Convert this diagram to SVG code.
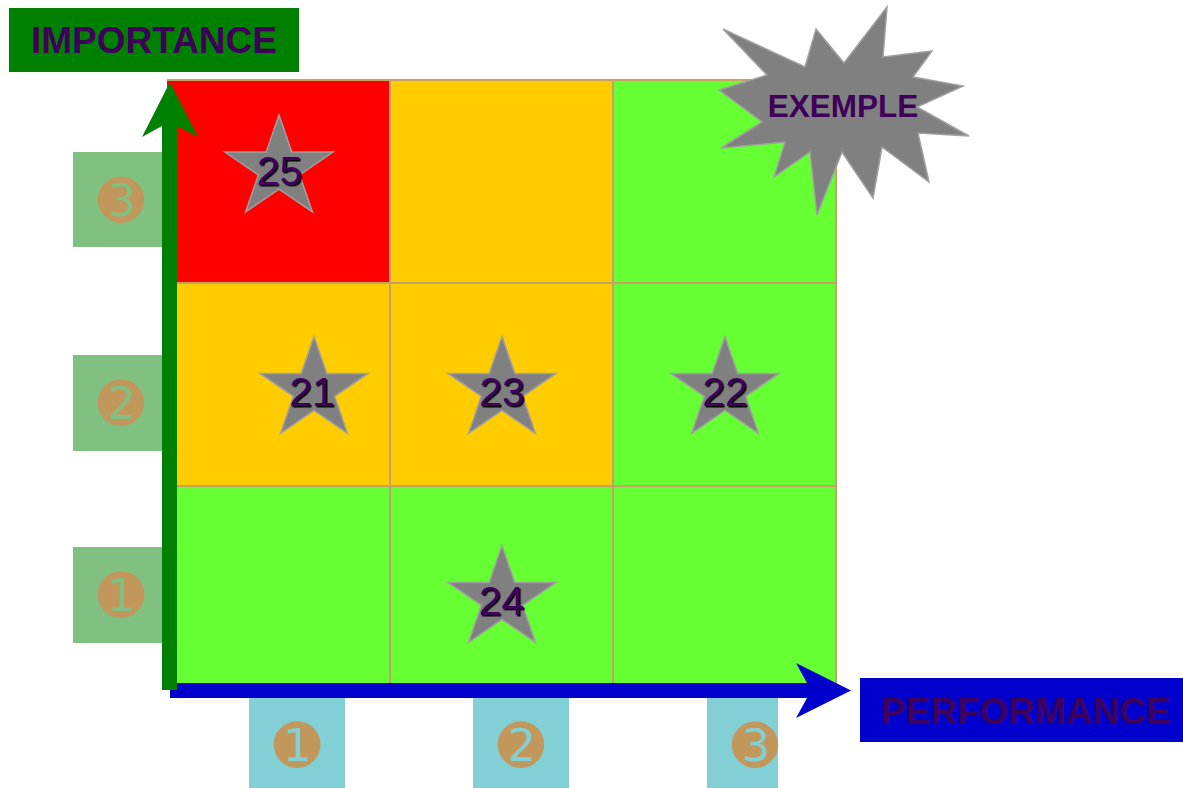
<svg xmlns="http://www.w3.org/2000/svg" width="1183" height="788" viewBox="0 0 1183 788">
<style>
.lbl{font-family:"Liberation Sans",Arial,sans-serif;font-weight:700;fill:#3f005a;text-anchor:middle}
.num{font-family:"Liberation Sans",Arial,sans-serif;font-size:41px;fill:#3f005a;text-anchor:middle}
.circ{font-family:"DejaVu Sans",sans-serif;font-size:56px;fill:#c1975c;text-anchor:middle}
.star{fill:#808080;stroke:#a0a0a0;stroke-width:1.5}
.ybox{fill:#80c080}
.xbox{fill:#82d0d6}
.grid{stroke:#c8a064;stroke-width:2;fill:none}
</style>
<defs>
<path id="starShape" d="M0,-53.6 L12.76,-16.57 L54.04,-16.56 L20.65,6.33 L33.4,43.36 L0,20.48 L-33.4,43.36 L-20.65,6.33 L-54.04,-16.56 L-12.76,-16.57 Z"/>
<filter id="shadow" x="-20%" y="-20%" width="140%" height="140%">
<feDropShadow dx="1.5" dy="1.5" stdDeviation="0.4" flood-color="#000" flood-opacity="1"/>
</filter>
</defs>
<rect width="1183" height="788" fill="#fff"/>

<g id="title-importance">
<rect x="9" y="8" width="290" height="64" fill="#008000"/>
<text class="lbl" x="154" y="53" font-size="37">IMPORTANCE</text>
</g>

<g id="matrix">
<rect x="167" y="80" width="223" height="203" fill="#ff0000"/>
<rect x="390" y="80" width="223" height="203" fill="#ffcc00"/>
<rect x="613" y="80" width="223" height="203" fill="#66ff33"/>
<rect x="167" y="283" width="223" height="203" fill="#ffcc00"/>
<rect x="390" y="283" width="223" height="203" fill="#ffcc00"/>
<rect x="613" y="283" width="223" height="203" fill="#66ff33"/>
<rect x="167" y="486" width="223" height="198" fill="#66ff33"/>
<rect x="390" y="486" width="223" height="198" fill="#66ff33"/>
<rect x="613" y="486" width="223" height="198" fill="#66ff33"/>
<path class="grid" d="M167,80 H836 V684 M390,80 V684 M613,80 V684 M167,283 H836 M167,486 H836"/>
</g>

<g id="y-scale">
<rect class="ybox" x="73" y="152" width="90" height="95"/>
<text class="circ" x="121" y="220">➌</text>
<rect class="ybox" x="73" y="355" width="90" height="96"/>
<text class="circ" x="121" y="423">➋</text>
<rect class="ybox" x="73" y="547" width="90" height="96"/>
<text class="circ" x="121" y="615">➊</text>
</g>

<g id="x-scale">
<rect class="xbox" x="249" y="698" width="96" height="90"/>
<text class="circ" x="297" y="765">➊</text>
<rect class="xbox" x="473" y="698" width="96" height="90"/>
<text class="circ" x="521" y="765">➋</text>
<rect class="xbox" x="707" y="698" width="71" height="90"/>
<text class="circ" x="755" y="765">➌</text>
</g>

<g id="connectors">
<path id="axis-x" d="M170,683 H807 L796,663 L851,690.5 L796,718 L807,698 H170 Z" fill="#0000cc"/>
<path id="axis-y" d="M162,690 V126 L142,137 L170,82 L198,137 L177,126 V690 Z" fill="#008000"/>
</g>

<g id="title-performance">
<rect x="860" y="678" width="323" height="64" fill="#0000cc"/>
<text class="lbl" x="1026" y="724" font-size="37">PERFORMANCE</text>
</g>

<g id="star-25">
<use href="#starShape" class="star" transform="translate(279,168.6)"/>
<text class="num" x="279.5" y="185" filter="url(#shadow)">25</text>
</g>
<g id="star-21">
<use href="#starShape" class="star" transform="translate(314,390)"/>
<text class="num" x="312" y="406" filter="url(#shadow)">21</text>
</g>
<g id="star-23">
<use href="#starShape" class="star" transform="translate(502,390)"/>
<text class="num" x="502" y="406" filter="url(#shadow)">23</text>
</g>
<g id="star-22">
<use href="#starShape" class="star" transform="translate(725,390)"/>
<text class="num" x="725" y="406" filter="url(#shadow)">22</text>
</g>
<g id="star-24">
<use href="#starShape" class="star" transform="translate(502,599)"/>
<text class="num" x="501.5" y="615" filter="url(#shadow)">24</text>
</g>

<g id="exemple">
<path d="M723,29 L805,67 L816,29 L844,63 L887,7 L883,57 L932,51 L913,77 L963,86 L917,107 L969,136 L918,133 L929,182 L882,147 L873,198 L842,152 L817,215 L810,152 L774,177 L785,142 L721,148 L762,122 L719,90 L767,75 Z" fill="#808080" stroke="#a0a0a0" stroke-width="1.5" stroke-linejoin="miter"/>
<text class="lbl" x="843" y="117" font-size="31.5">EXEMPLE</text>
</g>
</svg>
